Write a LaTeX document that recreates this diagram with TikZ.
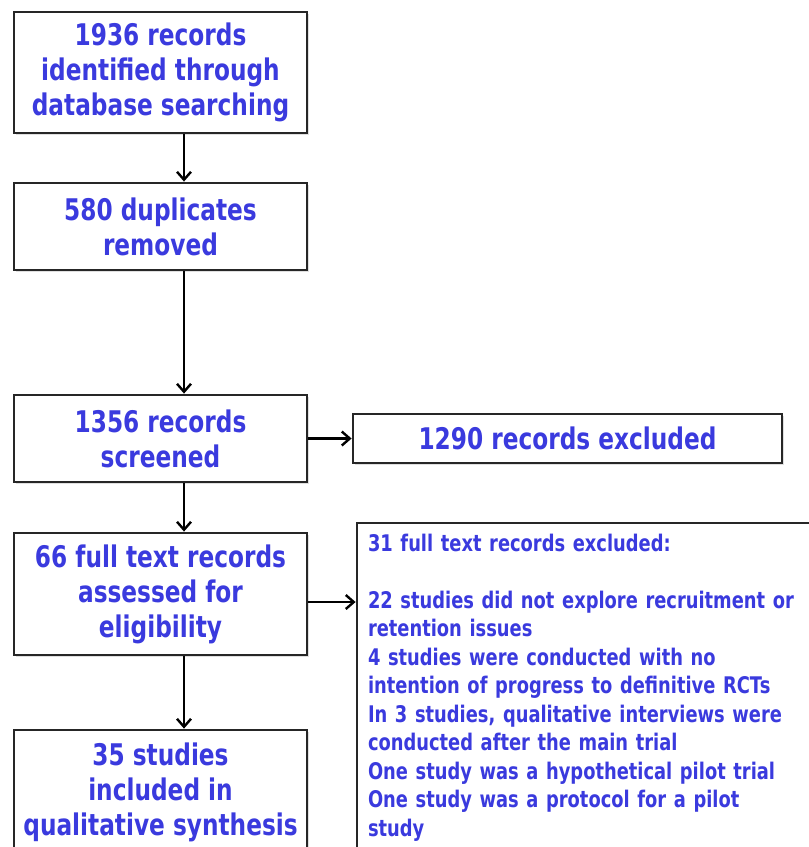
\documentclass[tikz,border=0pt]{standalone}
\usepackage{fontspec}
\setmainfont{DejaVu Sans}[FakeStretch=0.78]
\usepackage{xcolor}
\usetikzlibrary{arrows.meta, positioning, shadows}
\definecolor{flowblue}{RGB}{58,58,222}

\begin{document}
\begin{tikzpicture}[x=1pt, y=-1pt,
  stagebox/.style={draw=black!85, line width=2.8pt, fill=white, inner sep=0pt,
    align=center, text=flowblue, minimum width=293pt,
    font=\fontsize{29.8pt}{35pt}\selectfont\bfseries,
    drop shadow={shadow xshift=1.5pt, shadow yshift=-1.5pt, opacity=0.25}},
  notebox/.style={stagebox, align=left, inner xsep=11pt, inner ysep=0pt,
    text width=436pt, font=\fontsize{22.9pt}{28.5pt}\selectfont\bfseries},
  flow/.style={-{Straight Barb[length=8pt,width=14pt]}, line width=2.4pt}]
  \useasboundingbox (0,0) rectangle (809,847);
  \clip (0,0) rectangle (809,847);
  \coordinate (spine) at (184,0);

  \node[stagebox, minimum height=121pt] (ident) at (160.5,72.5)
    {1936 records\\identified through\\database searching};
  \node[stagebox, minimum height=87pt] (dedup) at (160.5,226.5)
    {580 duplicates\\removed};
  \node[stagebox, minimum height=87pt] (screen) at (160.5,438.5)
    {1356 records\\screened};
  \node[stagebox, minimum width=429pt, minimum height=49pt] (excl) at (567.5,438.5)
    {1290 records excluded};
  \node[stagebox, minimum height=122pt] (full) at (160.5,594)
    {66 full text records\\assessed for\\eligibility};
  \node[stagebox, minimum height=124pt] (incl) at (160.5,792)
    {35 studies\\included in\\qualitative synthesis};
  \node[notebox, minimum height=329pt] (reasons) at (586,687.5)
    {31 full text records excluded:\\[28.5pt]
     22 studies did not explore recruitment or\\
     retention issues\\
     4 studies were conducted with no\\
     intention of progress to definitive RCTs\\
     In 3 studies, qualitative interviews were\\
     conducted after the main trial\\
     One study was a hypothetical pilot trial\\
     One study was a protocol for a pilot\\
     study};

  \draw[flow] (ident.south -| spine) -- (dedup.north -| spine);
  \draw[flow] (dedup.south -| spine) -- (screen.north -| spine);
  \draw[flow] (screen.south -| spine) -- (full.north -| spine);
  \draw[flow] (full.south -| spine) -- (incl.north -| spine);
  \draw[flow] (screen.east) -- (excl.west);
  \draw[flow] ([yshift=-8pt]full.east) -- ([yshift=-8pt]full.east -| reasons.west);
\end{tikzpicture}
\end{document}
